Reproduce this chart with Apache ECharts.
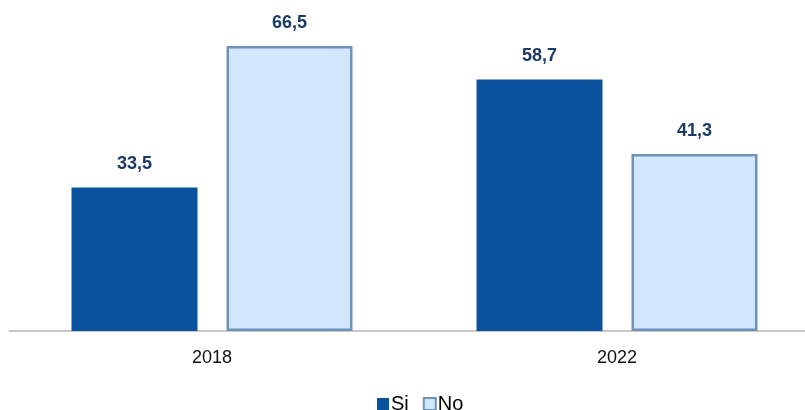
<!DOCTYPE html>
<html><head><meta charset="utf-8">
<script src="https://cdn.jsdelivr.net/npm/echarts@6/dist/echarts.min.js"></script>
<style>html,body{margin:0;padding:0;background:#fff}#c{width:805px;height:410px}</style>
</head><body><div id="c"></div>
<script>
const categories = ['2018', '2022'];
const siValues = [33.5, 58.7];
const noValues = [66.5, 41.3];
const seriesNames = ['Si', 'No'];

const FONT = '"Liberation Sans Narrow", "Liberation Sans", Arial, sans-serif';
const fmt = p => String(p.value.toFixed(1)).replace('.', ',');
const chart = echarts.init(document.getElementById('c'));
chart.setOption({
  animation: false,
  grid: { left: 9.5, width: 810, top: 46, bottom: 79, containLabel: false, outerBoundsMode: 'none' },
  legend: {
    top: 394, left: 377, itemWidth: 12, itemHeight: 12, itemGap: 14, padding: 0, icon: 'rect',
    textStyle: { fontFamily: FONT, fontSize: 20, lineHeight: 20, color: '#000', padding: [0, 0, 0, -3] },
    data: seriesNames
  },
  xAxis: {
    type: 'category', data: categories,
    axisLine: { lineStyle: { color: '#C8C8C8', width: 2 } },
    axisTick: { show: false },
    axisLabel: { fontFamily: FONT, fontSize: 18, color: '#111', margin: 18 }
  },
  yAxis: { type: 'value', min: 0, max: 66.5, show: false, splitLine: { show: false } },
  series: [
    {
      name: seriesNames[0], type: 'bar', data: siValues, barWidth: 126, barGap: '23%',
      itemStyle: { color: '#0B529E' },
      label: { show: true, position: 'top', distance: 14, formatter: fmt, fontFamily: FONT, fontWeight: 'bold', fontSize: 18, color: '#1B3A66' }
    },
    {
      name: seriesNames[1], type: 'bar', data: noValues, barWidth: 126,
      itemStyle: { color: '#D2E7FB', borderColor: '#6E92BA', borderWidth: 2.5 },
      label: { show: true, position: 'top', distance: 14, formatter: fmt, fontFamily: FONT, fontWeight: 'bold', fontSize: 18, color: '#1B3A66' }
    }
  ]
});
</script></body></html>
